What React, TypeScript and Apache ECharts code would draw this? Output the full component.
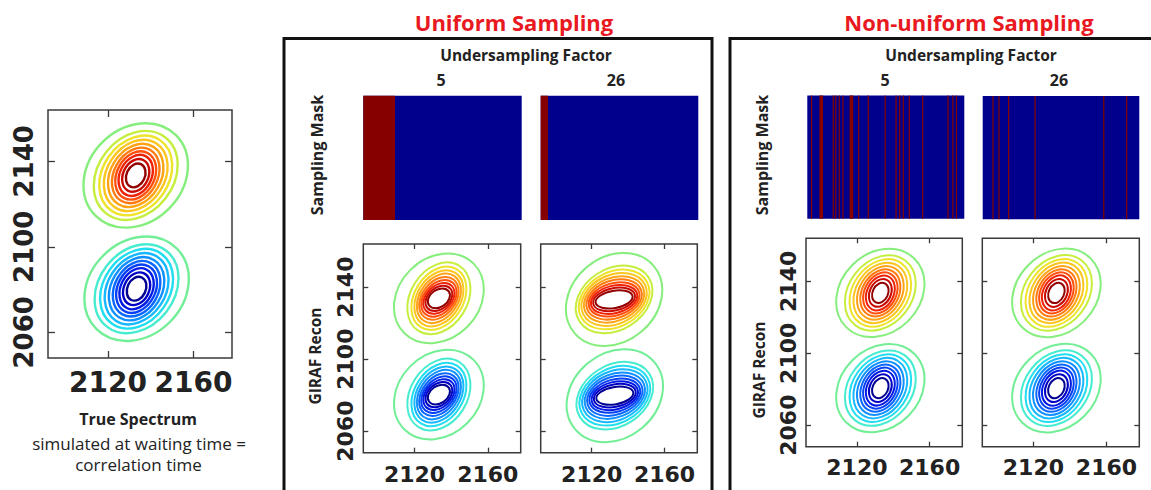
import React, { useEffect, useRef } from 'react';
import * as echarts from 'echarts';

const W = 1151;
const H = 490;

// axis ranges and ticks (cm^-1)
const X_RANGE = [2092, 2178];
const Y_RANGE = [2048, 2164];
const X_TICKS = [2120, 2160];
const Y_TICKS = [2060, 2100, 2140];

// contour colours, outermost -> innermost
const POS_COLORS = ['#86ee7c', '#c6ee3e', '#eee42a', '#fbc61f', '#ffa316', '#ff7b10', '#ff4f0b', '#ee2206', '#c80a00', '#920000'];
const NEG_COLORS = ['#72ee96', '#46eccf', '#20def0', '#16b8ff', '#1090ff', '#0a68ff', '#0640f4', '#001ae4', '#0000c4', '#000092'];

// peak centres [x, y]: positive (top) peak, negative (bottom) peak
const TRUE_PEAKS = [[2133.0, 2133.4], [2133.4, 2080.4]];
const U5_PEAKS = [[2133.3, 2133.8], [2133.3, 2080.3]];
const U26_PEAKS = [[2132.3, 2133.2], [2132.7, 2079.7]];
const NU5_PEAKS = [[2132.9, 2133.6], [2132.9, 2080.6]];
const NU26_PEAKS = [[2132.6, 2133.6], [2132.6, 2080.6]];

// contour rings [semi-major, semi-minor, tilt deg], outermost -> innermost
const TRUE_RINGS = [
  [26.6, 22.0, 45], [22.5, 17.6, 52], [20.0, 15.4, 55], [17.8, 13.5, 57], [15.7, 11.8, 59],
  [13.7, 10.2, 61], [11.9, 8.8, 62], [10.1, 7.4, 63], [8.0, 5.9, 64], [5.8, 4.3, 65],
];
const U5_RINGS = [
  [26.8, 22.4, 45], [21.0, 15.8, 58], [18.6, 13.6, 58], [16.6, 12.0, 57], [14.8, 10.6, 55],
  [13.0, 9.3, 52], [11.4, 8.1, 48], [9.8, 7.0, 44], [8.2, 5.9, 40], [6.6, 4.8, 35],
];
const U26_RINGS = [
  [28.5, 23.5, 40], [22.5, 17.0, 32], [20.5, 15.2, 28], [18.8, 13.6, 25], [17.2, 12.0, 22],
  [15.7, 10.5, 19], [14.3, 9.0, 16], [13.0, 7.6, 14], [11.7, 6.2, 12], [10.3, 4.8, 10],
];
const NU5_RINGS = TRUE_RINGS;
const NU26_RINGS = TRUE_RINGS;

// sampling masks: sampled column runs [start, end) out of MASK_COLUMNS
const MASK_COLUMNS = 130;
const U5_RUNS = [[0, 26]];
const U26_RUNS = [[0, 6]];
const NU5_RUNS = [
  [3, 4], [10, 13], [21, 22], [23, 24], [26, 27], [29, 30], [35, 38], [42, 43], [50, 51],
  [64, 65], [73, 74], [76, 77], [79, 80], [84, 85], [95, 96], [116, 117], [120, 121], [123, 124],
];
const NU26_RUNS = [[8, 9], [13, 14], [21, 22], [43, 44], [100, 101], [119, 120]];

const MASK_BLUE = '#00008c';
const MASK_RED = '#860000';
const AXIS_COLOR = '#3a3a3a';
const TEXT_COLOR = '#222222';

function buildOption() {
  const grid: any[] = [];
  const xAxis: any[] = [];
  const yAxis: any[] = [];
  const series: any[] = [];
  const plain = (v: number) => String(v);

  const addContour = (box: number[], peaks: number[][], rings: number[][], o: any) => {
    const g = grid.length;
    grid.push({
      left: box[0], top: box[1], width: box[2], height: box[3],
      show: true, borderColor: AXIS_COLOR, borderWidth: 1.5, backgroundColor: '#fff',
    });
    const tick = { show: true, inside: true, length: o.tick, lineStyle: { color: AXIS_COLOR, width: 1.3 } };
    const xi = xAxis.length;
    const base = { axisLine: { show: false }, splitLine: { show: false } };
    xAxis.push({
      ...base, type: 'value', gridIndex: g, position: 'bottom', min: X_RANGE[0], max: X_RANGE[1],
      axisTick: { ...tick, customValues: X_TICKS },
      axisLabel: {
        show: true, customValues: X_TICKS, formatter: plain, hideOverlap: false,
        fontFamily: 'DejaVu Sans', fontWeight: 'bold',
        fontSize: o.xFont, color: TEXT_COLOR, margin: o.xMargin,
      },
    });
    xAxis.push({
      ...base, type: 'value', gridIndex: g, position: 'top', min: X_RANGE[0], max: X_RANGE[1],
      axisTick: { ...tick, customValues: X_TICKS }, axisLabel: { show: false },
    });
    const yi = yAxis.length;
    yAxis.push({
      ...base, type: 'value', gridIndex: g, position: 'left', min: Y_RANGE[0], max: Y_RANGE[1],
      axisTick: { ...tick, customValues: Y_TICKS },
      axisLabel: {
        show: o.yLabels, customValues: Y_TICKS, formatter: plain, hideOverlap: false, rotate: 90,
        fontFamily: 'DejaVu Sans', fontWeight: 'bold',
        fontSize: o.yFont, color: TEXT_COLOR, margin: o.yMargin,
      },
    });
    yAxis.push({
      ...base, type: 'value', gridIndex: g, position: 'right', min: Y_RANGE[0], max: Y_RANGE[1],
      axisTick: { ...tick, customValues: Y_TICKS }, axisLabel: { show: false },
    });
    const data: number[][] = [];
    peaks.forEach((p, pi) => rings.forEach((r, ri) => data.push([p[0], p[1], r[0], r[1], r[2], pi, ri])));
    const lw = o.lw;
    series.push({
      type: 'custom', xAxisIndex: xi, yAxisIndex: yi, silent: true, data,
      renderItem: (_params: any, api: any) => {
        const c = api.coord([api.value(0), api.value(1)]);
        const s = api.size([1, 1]);
        const pi = api.value(5);
        const ri = api.value(6);
        const col = (pi === 0 ? POS_COLORS : NEG_COLORS)[ri];
        return {
          type: 'ellipse',
          x: c[0], y: c[1],
          rotation: (api.value(4) * Math.PI) / 180,
          shape: { cx: 0, cy: 0, rx: api.value(2) * s[0], ry: api.value(3) * s[1] },
          style: { fill: 'none', stroke: col, lineWidth: lw },
        };
      },
    });
  };

  const addMask = (box: number[], runs: number[][]) => {
    const g = grid.length;
    grid.push({
      left: box[0], top: box[1], width: box[2], height: box[3],
      show: true, borderWidth: 0, backgroundColor: MASK_BLUE,
    });
    const xi = xAxis.length;
    xAxis.push({ type: 'value', gridIndex: g, min: 0, max: MASK_COLUMNS, show: false });
    const yi = yAxis.length;
    yAxis.push({ type: 'value', gridIndex: g, min: 0, max: 1, show: false });
    series.push({
      type: 'custom', xAxisIndex: xi, yAxisIndex: yi, silent: true, data: runs,
      renderItem: (_params: any, api: any) => {
        const p0 = api.coord([api.value(0), 1]);
        const p1 = api.coord([api.value(1), 0]);
        return {
          type: 'rect',
          shape: { x: p0[0], y: p0[1], width: p1[0] - p0[0], height: p1[1] - p0[1] },
          style: { fill: MASK_RED },
        };
      },
    });
  };

  const big = { tick: 7, xFont: 28, yFont: 26, xMargin: 10, yMargin: 11, lw: 2.4, yLabels: true };
  const small = { tick: 5, xFont: 22, yFont: 22, xMargin: 11, yMargin: 7, lw: 2, yLabels: true };
  const smallNoY = { ...small, yLabels: false };

  addContour([48, 110, 184, 248], TRUE_PEAKS, TRUE_RINGS, big);
  addMask([363.3, 95.7, 158.4, 124.3], U5_RUNS);
  addMask([540.7, 95.7, 157.6, 124.3], U26_RUNS);
  addContour([363.3, 244, 157.4, 208.7], U5_PEAKS, U5_RINGS, small);
  addContour([540.7, 244, 156.6, 208.7], U26_PEAKS, U26_RINGS, smallNoY);
  addMask([807.3, 95.5, 157, 123.3], NU5_RUNS);
  addMask([982.7, 96, 156.6, 123.3], NU26_RUNS);
  addContour([806, 238.3, 156.3, 208.4], NU5_PEAKS, NU5_RINGS, { ...small, xMargin: 10 });
  addContour([982.3, 238.3, 157, 208.4], NU26_PEAKS, NU26_RINGS, { ...smallNoY, xMargin: 10 });

  const txt = (text: string, x: number, y: number, size: number, weight: string, fill: string, rot = 0) => ({
    type: 'text', x, y, rotation: rot, silent: true,
    style: {
      text, fill, fontSize: size, fontWeight: weight, fontFamily: 'Open Sans',
      textAlign: 'center', textVerticalAlign: 'middle', align: 'center', verticalAlign: 'middle',
    },
  });

  const graphic: any[] = [
    { type: 'rect', silent: true, shape: { x: 284, y: 38.5, width: 428, height: 480 }, style: { fill: 'none', stroke: '#111', lineWidth: 3 } },
    { type: 'rect', silent: true, shape: { x: 730, y: 38.5, width: 440, height: 480 }, style: { fill: 'none', stroke: '#111', lineWidth: 3 } },
    txt('Uniform Sampling', 514, 22, 22, 'bold', '#e8191f'),
    txt('Non-uniform Sampling', 969, 22, 22, 'bold', '#e8191f'),
    txt('Undersampling Factor', 526, 55, 15.5, 'bold', TEXT_COLOR),
    txt('Undersampling Factor', 971, 55, 15.5, 'bold', TEXT_COLOR),
    txt('5', 441, 80, 16, 'bold', TEXT_COLOR),
    txt('26', 616, 80, 16, 'bold', TEXT_COLOR),
    txt('5', 885, 80, 16, 'bold', TEXT_COLOR),
    txt('26', 1059, 80, 16, 'bold', TEXT_COLOR),
    txt('Sampling Mask', 316.7, 155, 16, 'bold', TEXT_COLOR, Math.PI / 2),
    txt('Sampling Mask', 761.7, 155, 16, 'bold', TEXT_COLOR, Math.PI / 2),
    txt('GIRAF Recon', 315, 356, 15.5, 'bold', TEXT_COLOR, Math.PI / 2),
    txt('GIRAF Recon', 759.3, 370, 15.5, 'bold', TEXT_COLOR, Math.PI / 2),
    txt('True Spectrum', 138, 419, 16, 'bold', TEXT_COLOR),
    txt('simulated at waiting time =', 139, 443, 17, 'normal', TEXT_COLOR),
    txt('correlation time', 138.5, 464.5, 17, 'normal', TEXT_COLOR),
  ];

  return {
    animation: false,
    backgroundColor: '#ffffff',
    textStyle: { fontFamily: 'Open Sans' },
    grid, xAxis, yAxis, series, graphic,
  };
}

export default function App() {
  const ref = useRef<HTMLDivElement>(null);
  useEffect(() => {
    const chart = echarts.init(ref.current as HTMLDivElement, null, { renderer: 'svg' });
    chart.setOption(buildOption() as any);
    return () => chart.dispose();
  }, []);
  return (
    <div
      ref={ref}
      style={{ position: 'fixed', left: 0, top: 0, width: W, height: H, background: '#fff' }}
    />
  );
}
